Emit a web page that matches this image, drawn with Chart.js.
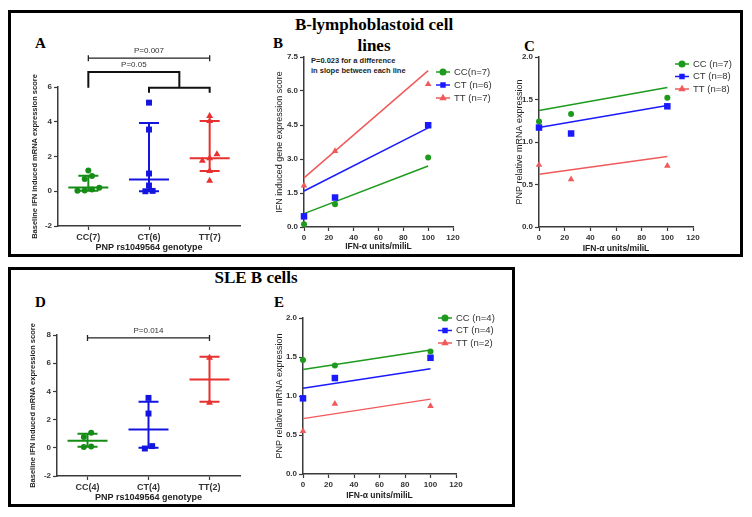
<!DOCTYPE html>
<html>
<head>
<meta charset="utf-8">
<script src="https://cdn.jsdelivr.net/npm/chart.js@4.4.1/dist/chart.umd.min.js"></script>
<style>
  body { margin: 0; width: 752px; height: 517px; background: #fff; position: relative; overflow: hidden; font-family: "Liberation Sans", Arial, sans-serif; }
  .box { position: absolute; border: 3px solid #000; box-sizing: border-box; }
  .ttl { position: absolute; font-family: "Liberation Serif", "Times New Roman", serif; font-weight: bold; color: #000; text-align: center; }
  .note { position: absolute; font-weight: bold; font-size: 7.5px; line-height: 10px; color: #222; }
  canvas { position: absolute; }
</style>
</head>
<body>
<div class="box" style="left:8px;top:10px;width:735px;height:247px"></div>
<div class="box" style="left:8px;top:267px;width:507px;height:240px"></div>

<div class="ttl" style="left:274px;top:14px;width:200px;font-size:17px;line-height:21px">B-lymphoblastoid cell<br>lines</div>
<div class="ttl" style="left:156px;top:267px;width:200px;font-size:17px;line-height:21px">SLE B cells</div>
<div class="ttl" style="left:35px;top:35px;font-size:15px">A</div>
<div class="ttl" style="left:273px;top:35px;font-size:15px">B</div>
<div class="ttl" style="left:524px;top:38px;font-size:15px">C</div>
<div class="ttl" style="left:35px;top:294px;font-size:15px">D</div>
<div class="ttl" style="left:274px;top:294px;font-size:15px">E</div>
<div class="note" style="left:311px;top:56px">P=0.023 for a difference<br>in slope between each line</div>

<canvas id="chartA" width="224" height="220" style="left:26px;top:35px"></canvas>
<canvas id="chartB" width="237" height="205" style="left:268px;top:50px"></canvas>
<canvas id="chartC" width="236" height="208" style="left:508px;top:50px"></canvas>
<canvas id="chartD" width="226" height="205" style="left:24px;top:300px"></canvas>
<canvas id="chartE" width="240" height="200" style="left:268px;top:305px"></canvas>

<script>
// --- dados ---
// Painel A: expressao basal (linhas celulares)
const aLabels = ['CC(7)', 'CT(6)', 'TT(7)'];
const aCC = [1.2, 0.88, 0.7, 0.1, 0.03, 0.05, 0.2];
const aCT = [5.1, 3.55, 1.02, 0.33, 0.0, 0.02];
const aTT = [4.33, 4.05, 2.13, 1.9, 1.75, 1.16, 0.6];
const aMedian = [0.22, 0.67, 1.9];
const aLow = [0.03, 0.0, 1.16];
const aHigh = [0.89, 3.93, 4.05];

// Painel D: expressao basal (celulas B de LES)
const dLabels = ['CC(4)', 'CT(4)', 'TT(2)'];
const dCC = [1.06, 0.77, 0.1, 0.05];
const dCT = [3.54, 2.43, 0.12, -0.05];
const dTT = [6.38, 3.19];
const dMedian = [0.5, 1.29, 4.85];
const dLow = [0.08, 0.01, 3.26];
const dHigh = [0.99, 3.26, 6.45];

// Paineis B, C, E: resposta a IFN-alfa
const doses = [0, 25, 100];
const fitDoses = [0, 100];

const bLegend = ['CC(n=7)', 'CT (n=6)', 'TT (n=7)'];
const bCC = [0.12, 1.0, 3.07];
const bCT = [0.47, 1.3, 4.49];
const bTT = [1.83, 3.35, 6.3];
const bFitCC = [0.59, 2.69];
const bFitCT = [1.59, 4.37];
const bFitTT = [2.17, 6.9];

const cLegend = ['CC (n=7)', 'CT (n=8)', 'TT (n=8)'];
const cCC = [1.24, 1.33, 1.52];
const cCT = [1.17, 1.1, 1.42];
const cTT = [0.73, 0.56, 0.72];
const cFitCC = [1.37, 1.64];
const cFitCT = [1.17, 1.43];
const cFitTT = [0.62, 0.83];

const eLegend = ['CC (n=4)', 'CT (n=4)', 'TT (n=2)'];
const eCC = [1.46, 1.39, 1.57];
const eCT = [0.97, 1.23, 1.49];
const eTT = [0.55, 0.9, 0.87];
const eFitCC = [1.34, 1.59];
const eFitCT = [1.1, 1.35];
const eFitTT = [0.71, 0.96];

// --- estilos ---
const SANS = '"Liberation Sans", Arial, sans-serif';
const axisColor = '#3a3a3a';
const dotColors = ['#168c16', '#1414e0', '#e8302e'];
const lineColors = ['#1e9a1e', '#1a1aff', '#f05a5a'];
const shapes = ['circle', 'rect', 'triangle'];

// espalha pontos com valores proximos (tipo beeswarm)
function swarm(values, gap, step) {
  const idx = values.map((v, i) => i).sort((a, b) => values[a] - values[b]);
  const off = new Array(values.length).fill(0);
  let cluster = [idx[0]];
  const flush = () => cluster.forEach((k, j) => { off[k] = (j - (cluster.length - 1) / 2) * step; });
  for (let n = 1; n < idx.length; n++) {
    if (values[idx[n]] - values[idx[n - 1]] < gap) cluster.push(idx[n]);
    else { flush(); cluster = [idx[n]]; }
  }
  flush();
  return off;
}

// mediana + intervalo (barras)
const errBars = {
  id: 'errBars',
  beforeDatasetsDraw(chart, args, o) {
    const {ctx, scales: {x, y}} = chart;
    o.median.forEach((m, g) => {
      const cx = x.getPixelForValue(g + 1);
      const lo = y.getPixelForValue(o.low[g]);
      const hi = y.getPixelForValue(o.high[g]);
      const md = y.getPixelForValue(m);
      ctx.save();
      ctx.strokeStyle = dotColors[g];
      ctx.lineWidth = 2;
      ctx.beginPath();
      ctx.moveTo(cx, lo); ctx.lineTo(cx, hi);
      ctx.moveTo(cx - 10, lo); ctx.lineTo(cx + 10, lo);
      ctx.moveTo(cx - 10, hi); ctx.lineTo(cx + 10, hi);
      ctx.moveTo(cx - 20, md); ctx.lineTo(cx + 20, md);
      ctx.stroke();
      ctx.restore();
    });
  }
};

// colchetes com valor de P
const brackets = {
  id: 'brackets',
  afterDatasetsDraw(chart, args, o) {
    const {ctx, scales: {x, y}} = chart;
    ctx.save();
    ctx.font = '8px ' + SANS;
    ctx.fillStyle = '#333';
    ctx.textAlign = 'center';
    ctx.textBaseline = 'bottom';
    (o.items || []).forEach(b => {
      ctx.strokeStyle = b.color || '#222';
      ctx.lineWidth = b.width || 1.5;
      ctx.beginPath();
      if (b.kind === 'simple') {
        const x1 = x.getPixelForValue(b.from), x2 = x.getPixelForValue(b.to), yy = y.getPixelForValue(b.level);
        ctx.moveTo(x1, yy); ctx.lineTo(x2, yy);
        ctx.moveTo(x1, yy - 3); ctx.lineTo(x1, yy + 3);
        ctx.moveTo(x2, yy - 3); ctx.lineTo(x2, yy + 3);
        ctx.stroke();
        ctx.fillText(b.text, (x1 + x2) / 2, yy - 3);
      } else {
        // um grupo contra os outros dois
        const x1 = x.getPixelForValue(b.from);
        const x2 = x.getPixelForValue(b.to[0]), x3 = x.getPixelForValue(b.to[1]);
        const xm = (x2 + x3) / 2;
        const top = y.getPixelForValue(b.level), foot = y.getPixelForValue(b.foot);
        ctx.moveTo(x1, foot); ctx.lineTo(x1, top); ctx.lineTo(xm, top); ctx.lineTo(xm, foot);
        ctx.moveTo(x2, foot + 5); ctx.lineTo(x2, foot); ctx.lineTo(x3, foot); ctx.lineTo(x3, foot + 5);
        ctx.stroke();
        ctx.fillText(b.text, (x1 + xm) / 2, top - 3);
      }
    });
    ctx.restore();
  }
};

// legenda estilo GraphPad: traco + marcador
const lineLegend = {
  id: 'lineLegend',
  afterDraw(chart, args, o) {
    const {ctx, chartArea} = chart;
    const sets = chart.data.datasets.filter(d => d.label);
    sets.forEach((d, i) => {
      const cx = chartArea.right + o.dx;
      const cy = chartArea.top + o.dy + i * o.gap;
      ctx.save();
      ctx.strokeStyle = d.borderColor;
      ctx.fillStyle = d.backgroundColor;
      ctx.lineWidth = 1.5;
      ctx.beginPath(); ctx.moveTo(cx - 7, cy); ctx.lineTo(cx + 7, cy); ctx.stroke();
      Chart.helpers.drawPoint(ctx, {pointStyle: d.pointStyle, radius: 2.8, borderWidth: 1, rotation: 0}, cx, cy);
      ctx.fillStyle = '#333';
      ctx.font = '9.5px ' + SANS;
      ctx.textAlign = 'left';
      ctx.textBaseline = 'middle';
      ctx.fillText(d.label, cx + 11, cy);
      ctx.restore();
    });
  }
};

function axis(o) {
  return {
    type: 'linear',
    min: o.min,
    max: o.max,
    ticks: {
      stepSize: o.step,
      autoSkip: false,
      color: '#333',
      padding: 2,
      font: {family: SANS, size: o.tickSize || 8, weight: 'bold'},
      callback: o.cb
    },
    afterBuildTicks: o.ticks ? (s => { s.ticks = o.ticks.map(v => ({value: v})); }) : undefined,
    grid: {drawOnChartArea: false, drawTicks: true, tickLength: 4, color: axisColor, tickWidth: 1.2},
    border: {display: true, color: axisColor, width: 1.5},
    title: {
      display: true,
      text: o.title,
      color: '#222',
      font: {family: SANS, size: o.titleSize || 8.5, weight: o.titleWeight || 'bold', lineHeight: 1.2},
      padding: o.titlePad
    },
    afterFit: o.fit
  };
}

function dotPlot(id, labels, series, stats, yMin, yMax, yStep, gap, pad, yW, xH, yTitlePad, bracketItems) {
  const datasets = series.map((vals, g) => {
    const off = swarm(vals, gap, 0.12);
    return {
      data: vals.map((v, i) => ({x: g + 1 + off[i], y: v})),
      pointStyle: shapes[g],
      pointRadius: g === 1 ? 4.2 : (g === 2 ? 4 : 3),
      backgroundColor: dotColors[g],
      borderColor: dotColors[g],
      borderWidth: 0,
      clip: false
    };
  });
  return new Chart(document.getElementById(id), {
    type: 'scatter',
    data: {datasets},
    options: {
      responsive: false,
      animation: false,
      devicePixelRatio: 1,
      layout: {padding: pad},
      plugins: {
        legend: {display: false},
        tooltip: {enabled: false},
        errBars: stats,
        brackets: {items: bracketItems}
      },
      scales: {
        x: axis({min: 0.5, max: 3.5, ticks: [1, 2, 3], cb: v => labels[v - 1], tickSize: 9,
                 title: 'PNP rs1049564 genotype', titleSize: 9, titlePad: {top: 0, bottom: 2},
                 fit: s => { s.height = xH; }}),
        y: axis({min: yMin, max: yMax, step: yStep, title: 'Baseline IFN induced mRNA expression score',
                 titleSize: 7.5, titlePad: {top: yTitlePad, bottom: 0},
                 fit: s => { s.width = yW; }})
      }
    },
    plugins: [errBars, brackets]
  });
}

function dosePlot(id, legend, series, fits, yMax, yStep, yTitle, pad, yW, xH, yTitlePad, xTitlePad, leg) {
  const datasets = [];
  series.forEach((vals, g) => {
    datasets.push({
      label: legend[g],
      data: vals.map((v, i) => ({x: doses[i], y: v})),
      pointStyle: shapes[g],
      pointRadius: g === 0 ? 3 : (g === 1 ? 4.6 : 3.8),
      backgroundColor: lineColors[g],
      borderColor: lineColors[g],
      borderWidth: 0,
      clip: false
    });
  });
  fits.forEach((vals, g) => {
    datasets.push({
      data: vals.map((v, i) => ({x: fitDoses[i], y: v})),
      showLine: true,
      pointRadius: 0,
      borderColor: lineColors[g],
      borderWidth: 1.5,
      clip: false
    });
  });
  return new Chart(document.getElementById(id), {
    type: 'scatter',
    data: {datasets},
    options: {
      responsive: false,
      animation: false,
      devicePixelRatio: 1,
      layout: {padding: pad},
      plugins: {
        legend: {display: false},
        tooltip: {enabled: false},
        lineLegend: leg
      },
      scales: {
        x: axis({min: 0, max: 120, step: 20, title: 'IFN-\u03b1 units/miliL', titleSize: 8.5,
                 titlePad: {top: 0, bottom: xTitlePad}, fit: s => { s.height = xH; }}),
        y: axis({min: 0, max: yMax, step: yStep, cb: v => v.toFixed(1), title: yTitle,
                 titleSize: 9, titleWeight: 'normal', titlePad: {top: yTitlePad, bottom: 0},
                 fit: s => { s.width = yW; }})
      }
    },
    plugins: [lineLegend]
  });
}

dotPlot('chartA', aLabels, [aCC, aCT, aTT], {median: aMedian, low: aLow, high: aHigh},
  -2, 6, 2, 0.25, {top: 52, right: 10, left: 0, bottom: 0}, 32, 29, 4,
  [{kind: 'simple', from: 1, to: 3, level: 7.66, text: 'P=0.007', width: 1.3},
   {kind: 'group', from: 1, to: [2, 3], level: 6.86, foot: 5.96, text: 'P=0.05', width: 2, color: '#111'}]);

dotPlot('chartD', dLabels, [dCC, dCT, dTT], {median: dMedian, low: dLow, high: dHigh},
  -2, 8, 2, 0.3, {top: 35, right: 10, left: 0, bottom: 0}, 33, 29, 4,
  [{kind: 'simple', from: 1, to: 3, level: 7.79, text: 'P=0.014', width: 1.3}]);

dosePlot('chartB', bLegend, [bCC, bCT, bTT], [bFitCC, bFitCT, bFitTT], 7.5, 1.5,
  'IFN induced gene expression score', {top: 7, right: 52, left: 0, bottom: 0}, 36, 28, 6, 3,
  {dx: -10, dy: 15, gap: 13});

dosePlot('chartC', cLegend, [cCC, cCT, cTT], [cFitCC, cFitCT, cFitTT], 2, 0.5,
  'PNP relative mRNA expression', {top: 7, right: 51, left: 0, bottom: 0}, 31, 31, 6, 4,
  {dx: -11, dy: 7, gap: 12.5});

dosePlot('chartE', eLegend, [eCC, eCT, eTT], [eFitCC, eFitCT, eFitTT], 2, 0.5,
  'PNP relative mRNA expression', {top: 13, right: 52, left: 0, bottom: 0}, 35, 31, 6, 4,
  {dx: -11, dy: 0, gap: 12.5});
</script>
</body>
</html>
